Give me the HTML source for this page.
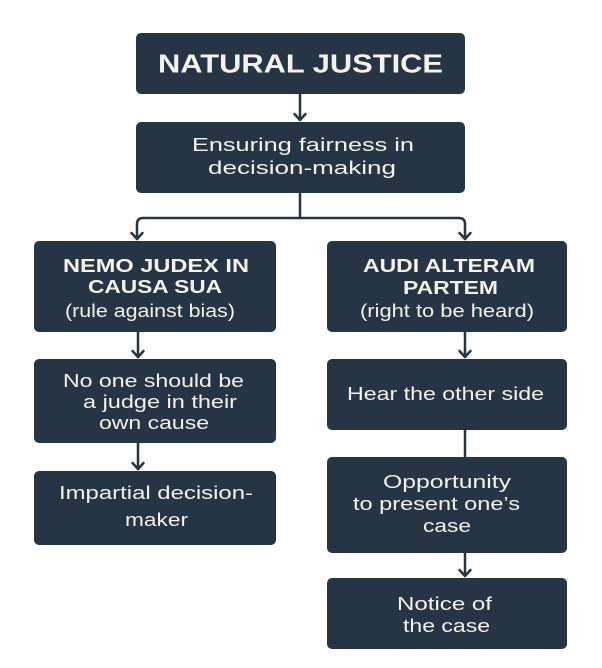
<!DOCTYPE html>
<html><head><meta charset="utf-8"><style>
html,body{margin:0;padding:0;background:#fff;width:602px;height:668px;overflow:hidden}
svg{display:block}
text{font-family:"Liberation Sans",Arial,sans-serif;fill:#f5f2ea}
.b{font-weight:bold}
</style></head><body>
<svg width="602" height="668" viewBox="0 0 602 668" xmlns="http://www.w3.org/2000/svg">
<g fill="#263545">
<rect x="136" y="33" width="329" height="61" rx="5"/>
<rect x="136" y="122" width="329" height="71" rx="5"/>
<rect x="34" y="241" width="242" height="91" rx="5"/>
<rect x="34" y="359" width="242" height="84" rx="5"/>
<rect x="34" y="471" width="242" height="74" rx="5"/>
<rect x="327" y="241" width="240" height="91" rx="5"/>
<rect x="327" y="359" width="240" height="71" rx="5"/>
<rect x="327" y="457" width="240" height="96" rx="5"/>
<rect x="327" y="578" width="240" height="71" rx="5"/>
</g>
<g fill="none" stroke="#263545" stroke-width="2.5" stroke-linecap="round" stroke-linejoin="round">
<path d="M300 94 V120"/><path d="M294.5 114 L300 120 L305.5 114"/>
<path d="M300 193 V218"/>
<path d="M137 239 V224 Q137 218 143 218 H459 Q465 218 465 224 V239"/>
<path d="M131.5 233 L137 239 L142.5 233"/><path d="M459.5 233 L465 239 L470.5 233"/>
<path d="M138 332 V357"/><path d="M132.5 351 L138 357 L143.5 351"/>
<path d="M138 443 V469"/><path d="M132.5 463 L138 469 L143.5 463"/>
<path d="M465 332 V357"/><path d="M459.5 351 L465 357 L470.5 351"/>
<path d="M465 430 V457"/>
<path d="M465 553 V576"/><path d="M459.5 570 L465 576 L470.5 570"/>
</g>
<g lengthAdjust="spacingAndGlyphs">
<text class="b" x="158" y="72.5" font-size="26" textLength="285" lengthAdjust="spacingAndGlyphs">NATURAL JUSTICE</text>
<text x="192" y="151" font-size="18.5" textLength="222" lengthAdjust="spacingAndGlyphs">Ensuring fairness in</text>
<text x="208" y="174" font-size="18.5" textLength="188" lengthAdjust="spacingAndGlyphs">decision-making</text>

<text class="b" x="63" y="272" font-size="18" textLength="186" lengthAdjust="spacingAndGlyphs">NEMO JUDEX IN</text>
<text class="b" x="88" y="293" font-size="18" textLength="134" lengthAdjust="spacingAndGlyphs">CAUSA SUA</text>
<text x="65" y="317" font-size="18" textLength="170" lengthAdjust="spacingAndGlyphs">(rule against bias)</text>
<text x="63" y="387" font-size="18.5" textLength="181" lengthAdjust="spacingAndGlyphs">No one should be</text>
<text x="83" y="408" font-size="18.5" textLength="154" lengthAdjust="spacingAndGlyphs">a judge in their</text>
<text x="99" y="429" font-size="18.5" textLength="110" lengthAdjust="spacingAndGlyphs">own cause</text>
<text x="59" y="499" font-size="18.5" textLength="194" lengthAdjust="spacingAndGlyphs">Impartial decision-</text>
<text x="125" y="526" font-size="18.5" textLength="63" lengthAdjust="spacingAndGlyphs">maker</text>

<text class="b" x="363" y="272" font-size="18" textLength="172" lengthAdjust="spacingAndGlyphs">AUDI ALTERAM</text>
<text class="b" x="403" y="294" font-size="18" textLength="95" lengthAdjust="spacingAndGlyphs">PARTEM</text>
<text x="360" y="317" font-size="18" textLength="174" lengthAdjust="spacingAndGlyphs">(right to be heard)</text>
<text x="347" y="400" font-size="18.5" textLength="197" lengthAdjust="spacingAndGlyphs">Hear the other side</text>
<text x="383" y="488" font-size="18.5" textLength="128" lengthAdjust="spacingAndGlyphs">Opportunity</text>
<text x="353" y="510" font-size="18.5" textLength="167" lengthAdjust="spacingAndGlyphs">to present one’s</text>
<text x="423" y="532" font-size="18.5" textLength="48" lengthAdjust="spacingAndGlyphs">case</text>
<text x="397" y="610" font-size="18.5" textLength="95" lengthAdjust="spacingAndGlyphs">Notice of</text>
<text x="403" y="632" font-size="18.5" textLength="87" lengthAdjust="spacingAndGlyphs">the case</text>
</g>
</svg>
</body></html>
